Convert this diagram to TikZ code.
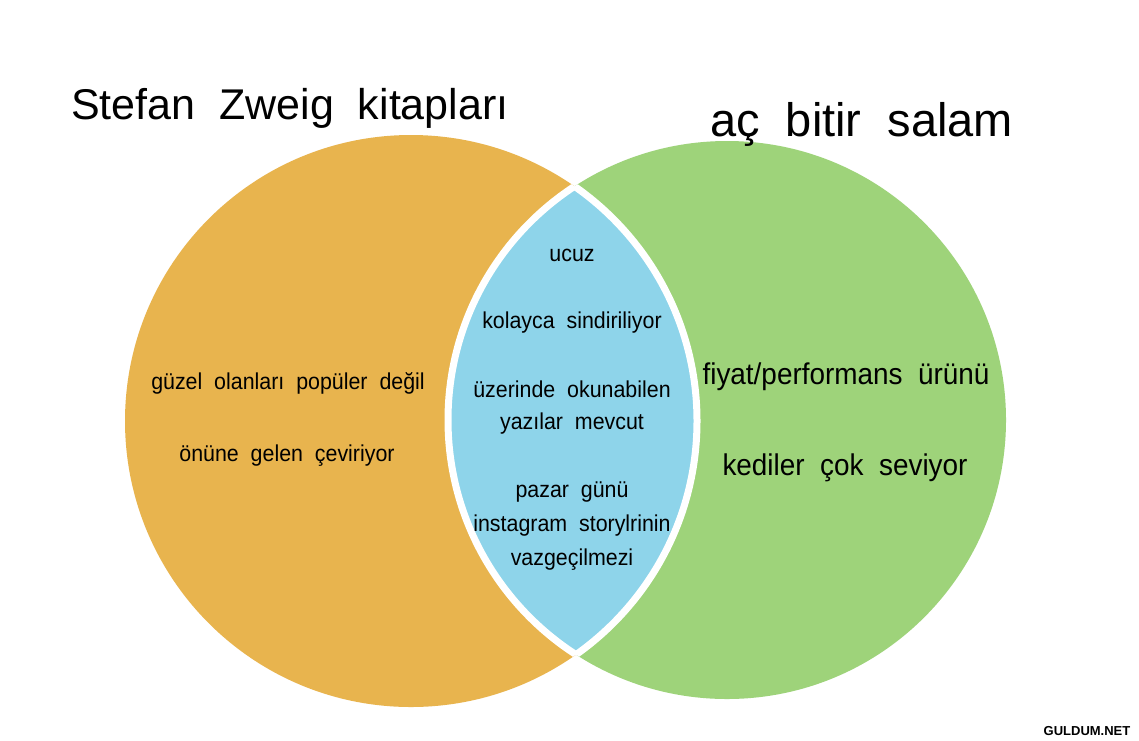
\documentclass[tikz,border=0pt]{standalone}
\usepackage{fontspec}
\usetikzlibrary{positioning}
\setmainfont[WordSpace=2]{Liberation Sans}
\newfontfamily\lblfont[FakeStretch=0.93,WordSpace=2]{Liberation Sans}
\definecolor{zweigorange}{RGB}{232,180,78}
\definecolor{salamgreen}{RGB}{158,211,122}
\definecolor{lensblue}{RGB}{142,212,234}

\begin{document}
\begin{tikzpicture}[x=1pt,y=-1pt,
  title/.style={anchor=base west,inner sep=0pt},
  lbl/.style={font=\lblfont\fontsize{23}{23}\selectfont,inner sep=0pt},
  midlbl/.style={font=\lblfont\fontsize{23}{23}\selectfont,inner sep=0pt},
  greenlbl/.style={font=\lblfont\fontsize{30}{30}\selectfont,inner sep=0pt}]
  \useasboundingbox (0,0) rectangle (1139,740);
  \fill[white] (0,0) rectangle (1139,740);
  \coordinate (zc) at (411,421);
  \coordinate (sc) at (727,420);
  \fill[zweigorange] (zc) circle[radius=286pt];
  \fill[salamgreen] (sc) circle[radius=279pt];
  \begin{scope}
    \clip (zc) circle[radius=286pt];
    \filldraw[fill=lensblue,draw=white,line width=7pt] (sc) circle[radius=279pt];
  \end{scope}
  \begin{scope}
    \clip (sc) circle[radius=279pt];
    \draw[white,line width=7pt] (zc) circle[radius=286pt];
  \end{scope}
  \node[title,font=\fontsize{43}{43}\selectfont] (zweig) at (71,119) {Stefan Zweig kitapları};
  \node[title,font=\fontsize{47}{47}\selectfont] (salam) at (710,136) {aç bitir salam};
  \node[lbl] (guzel) at (288,383) {güzel olanları popüler değil};
  \node[lbl] (onune) at (287,456) {önüne gelen çeviriyor};
  \node[greenlbl] (fiyat) at (846,377) {fiyat/performans ürünü};
  \node[greenlbl] (kedi) at (845,468) {kediler çok seviyor};
  \node[midlbl] (ucuz) at (572,255) {ucuz};
  \node[midlbl] (kolay) at (572,323) {kolayca sindiriliyor};
  \node[midlbl] (uzerinde) at (572,389) {üzerinde okunabilen};
  \node[midlbl] (yazilar) at (572,424) {yazılar mevcut};
  \node[midlbl] (pazar) at (572,492) {pazar günü};
  \node[midlbl] (insta) at (572,526) {instagram storylrinin};
  \node[midlbl] (vazgec) at (572,560) {vazgeçilmezi};
  \node[font=\bfseries\fontsize{13}{13}\selectfont,inner sep=0pt] (guldum) at (1087,731) {GULDUM.NET};
\end{tikzpicture}
\end{document}
